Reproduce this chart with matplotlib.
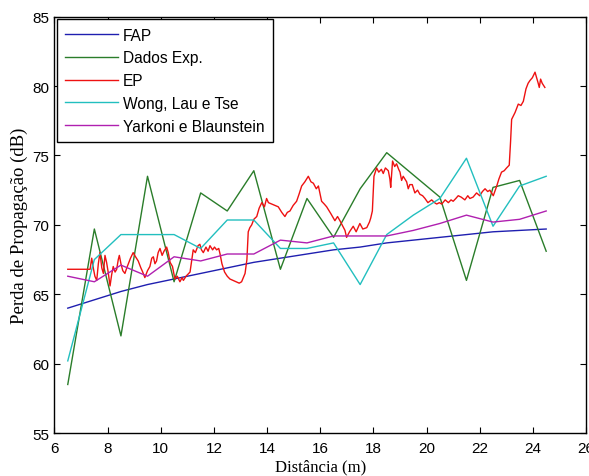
import matplotlib
matplotlib.use("Agg")
from matplotlib import pyplot as plt

# distances (m) for the 1 m sampled series
dist = [6.5, 7.5, 8.5, 9.5, 10.5, 11.5, 12.5, 13.5, 14.5, 15.5, 16.5, 17.5,
        18.5, 19.5, 20.5, 21.5, 22.5, 23.5, 24.5]

fap = [64.0, 64.6, 65.2, 65.7, 66.1, 66.5, 66.9, 67.3, 67.6, 67.9, 68.2, 68.4,
       68.7, 68.9, 69.1, 69.3, 69.5, 69.6, 69.7]
dados_exp = [58.5, 69.7, 62.0, 73.5, 65.9, 72.3, 71.0, 73.9, 66.8, 71.9, 69.1, 72.6,
             75.2, 73.6, 72.0, 66.0, 72.7, 73.2, 68.1]
wong = [60.2, 67.5, 69.3, 69.3, 69.3, 68.3, 70.35, 70.35, 68.3, 68.3, 68.7, 65.7,
        69.3, 70.7, 71.9, 74.8, 69.9, 72.8, 73.5]
yarkoni = [66.3, 65.9, 67.1, 66.3, 67.7, 67.4, 67.9, 67.9, 68.9, 68.7, 69.2, 69.2,
           69.2, 69.6, 70.1, 70.7, 70.2, 70.4, 71.0]

# EP (finer sampling), (distance, loss) pairs
ep = [(6.5, 66.8), (7.0, 66.8), (7.34, 66.8), (7.40, 67.6), (7.46, 66.9), (7.52, 66.3),
      (7.59, 66.0), (7.65, 67.2), (7.71, 68.0), (7.78, 66.9), (7.84, 66.5), (7.90, 67.8),
      (7.96, 67.3), (8.02, 66.6), (8.09, 65.6), (8.15, 66.4), (8.21, 67.0), (8.28, 66.6),
      (8.34, 66.8), (8.40, 67.5), (8.44, 67.8), (8.50, 67.2), (8.57, 66.7), (8.65, 66.5),
      (8.72, 66.9), (8.78, 67.2), (8.86, 67.6), (8.96, 68.0), (9.05, 67.7), (9.15, 67.4),
      (9.25, 66.9), (9.32, 66.6), (9.40, 66.2), (9.50, 66.7), (9.59, 67.0), (9.66, 67.6),
      (9.72, 67.7), (9.78, 67.2), (9.84, 67.4), (9.90, 68.0), (9.97, 68.3), (10.05, 67.8),
      (10.12, 68.1), (10.22, 68.4), (10.28, 68.0), (10.35, 67.3), (10.44, 67.0),
      (10.53, 66.1), (10.62, 66.3), (10.72, 65.9), (10.80, 66.2), (10.85, 66.0),
      (10.95, 66.3), (11.10, 66.6), (11.16, 67.4), (11.22, 68.2), (11.30, 68.0),
      (11.40, 68.5), (11.47, 68.6), (11.53, 68.2), (11.60, 68.0), (11.70, 68.4),
      (11.78, 68.1), (11.85, 68.5), (11.95, 68.2), (12.02, 68.4), (12.10, 68.2),
      (12.18, 68.3), (12.23, 67.9), (12.30, 67.2), (12.40, 66.6), (12.50, 66.3),
      (12.60, 66.1), (12.72, 66.0), (12.85, 65.9), (12.95, 65.8), (13.04, 65.9),
      (13.17, 66.5), (13.24, 67.5), (13.29, 69.5), (13.35, 69.8), (13.42, 70.0),
      (13.50, 70.4), (13.61, 70.6), (13.70, 71.2), (13.80, 71.6), (13.90, 71.3),
      (13.98, 71.9), (14.05, 71.6), (14.17, 71.5), (14.30, 71.4), (14.42, 71.3),
      (14.55, 70.9), (14.67, 70.6), (14.76, 70.9), (14.86, 71.0), (14.98, 71.4),
      (15.11, 71.7), (15.20, 72.2), (15.30, 72.8), (15.42, 73.1), (15.55, 73.5),
      (15.65, 73.1), (15.74, 73.0), (15.85, 72.6), (15.93, 72.8), (16.05, 71.7),
      (16.15, 71.5), (16.24, 71.3), (16.40, 70.8), (16.55, 70.3), (16.65, 70.6),
      (16.74, 70.3), (16.85, 69.9), (16.93, 69.6), (16.99, 69.1), (17.10, 69.5),
      (17.24, 69.9), (17.35, 69.5), (17.49, 70.1), (17.60, 69.7), (17.75, 69.8),
      (17.85, 70.2), (17.90, 70.5), (17.96, 71.0), (18.02, 73.5), (18.12, 74.1),
      (18.20, 73.8), (18.30, 74.0), (18.37, 73.7), (18.45, 74.1), (18.56, 73.9),
      (18.62, 73.3), (18.65, 72.7), (18.72, 74.6), (18.80, 74.2), (18.87, 74.4),
      (18.95, 74.0), (19.00, 73.8), (19.06, 73.2), (19.12, 73.5), (19.25, 73.1),
      (19.31, 72.6), (19.37, 72.9), (19.46, 72.9), (19.56, 72.3), (19.66, 72.5),
      (19.75, 72.2), (19.85, 72.1), (19.94, 71.9), (20.05, 71.6), (20.19, 71.8),
      (20.30, 71.6), (20.38, 71.5), (20.48, 71.6), (20.57, 71.5), (20.70, 71.8),
      (20.82, 71.6), (20.92, 71.8), (21.00, 71.7), (21.10, 71.9), (21.19, 72.1),
      (21.30, 72.0), (21.44, 71.8), (21.55, 72.1), (21.63, 71.9), (21.75, 72.0),
      (21.88, 72.3), (22.00, 72.1), (22.10, 72.4), (22.20, 72.6), (22.30, 72.4),
      (22.38, 72.5), (22.51, 72.1), (22.64, 72.8), (22.72, 73.3), (22.82, 73.8),
      (22.92, 73.9), (23.01, 74.1), (23.11, 74.3), (23.16, 76.0), (23.20, 77.6),
      (23.33, 78.1), (23.45, 78.7), (23.55, 78.6), (23.64, 78.9), (23.74, 79.8),
      (23.82, 80.2), (23.89, 80.4), (23.98, 80.6), (24.08, 81.0), (24.14, 80.6),
      (24.20, 80.2), (24.24, 79.9), (24.29, 80.5), (24.35, 80.2), (24.45, 79.9)]
ep_x = [p[0] for p in ep]
ep_y = [p[1] for p in ep]

plt.rcParams['font.family'] = ['Liberation Sans', 'DejaVu Sans']

fig = plt.figure(figsize=(5.89, 4.77), dpi=100)
ax = fig.add_axes([0.0925, 0.090, 0.9025, 0.873])

ax.plot(dist, fap, color='#1f1fb0', lw=1.0, label='FAP')
ax.plot(dist, dados_exp, color='#2a7d2a', lw=1.0, label='Dados Exp.')
ax.plot(ep_x, ep_y, color='#ee1111', lw=1.0, label='EP')
ax.plot(dist, wong, color='#22bfbf', lw=1.0, label='Wong, Lau e Tse')
ax.plot(dist, yarkoni, color='#b020b0', lw=1.0, label='Yarkoni e Blaunstein')

ax.set_xlim(6, 26)
ax.set_ylim(55, 85)
ax.set_xticks(range(6, 27, 2))
ax.set_yticks(range(55, 86, 5))
ax.tick_params(direction='in', top=True, right=True, labelsize=11, length=4)
ax.tick_params(axis='x', pad=6)
for s in ax.spines.values():
    s.set_linewidth(1.0)

ax.set_xlabel('Distância (m)', family='Liberation Serif', fontsize=12, labelpad=2)
ax.set_ylabel('Perda de Propagação (dB)', family='Liberation Serif', fontsize=13.5,
              labelpad=3)

leg = ax.legend(loc='upper left', fontsize=11.2, frameon=True, fancybox=False,
                edgecolor='black', framealpha=1, borderaxespad=0.15,
                handlelength=3.4, handletextpad=0.3, labelspacing=0.5,
                borderpad=0.55)
leg.get_frame().set_linewidth(1.0)

fig.savefig('out.png', dpi=100)
